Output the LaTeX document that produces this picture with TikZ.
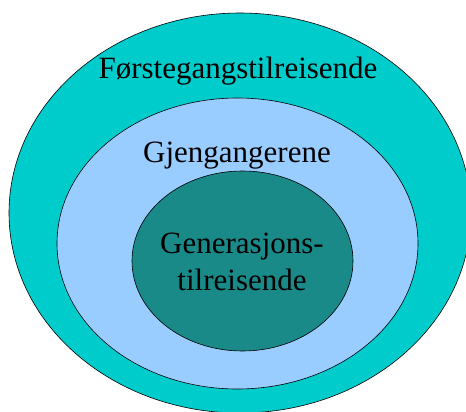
\documentclass[tikz,border=0pt]{standalone}
\usepackage{fontspec}
\setmainfont{Liberation Serif}
\usetikzlibrary{positioning}
\definecolor{ytre}{RGB}{0,204,204}
\definecolor{midt}{RGB}{153,204,255}
\definecolor{indre}{RGB}{26,138,136}
\tikzset{
  ring/.style={draw=black,line width=0.6pt},
  etikett/.style={font=\fontsize{31}{37}\selectfont,align=center,inner sep=0pt}
}

\begin{document}
\begin{tikzpicture}[x=1pt,y=-1pt]
\useasboundingbox (0,0) rectangle (466,412);
\clip (0,0) rectangle (466,412);
%ringene
\coordinate (Y) at (240,213);
\coordinate (M) at (237.5,243.5);
\coordinate (I) at (242.5,261);
\draw[ring,fill=ytre] (Y) ellipse [x radius=231pt,y radius=200pt];
\draw[ring,fill=midt] (M) ellipse [x radius=180.5pt,y radius=145.5pt];
\draw[ring,fill=indre] (I) ellipse [x radius=110.5pt,y radius=90pt];

%tekst
\node[etikett,anchor=base] (forste) at (238,78) {Førstegangstilreisende};
\node[etikett,anchor=base] (gjeng) at (237,162) {Gjengangerene};
\node[etikett,anchor=base] (gen) at (242,253) {Generasjons-};
\node[etikett,anchor=base] (tilr) at (242,290) {tilreisende};
\end{tikzpicture}
\end{document}
